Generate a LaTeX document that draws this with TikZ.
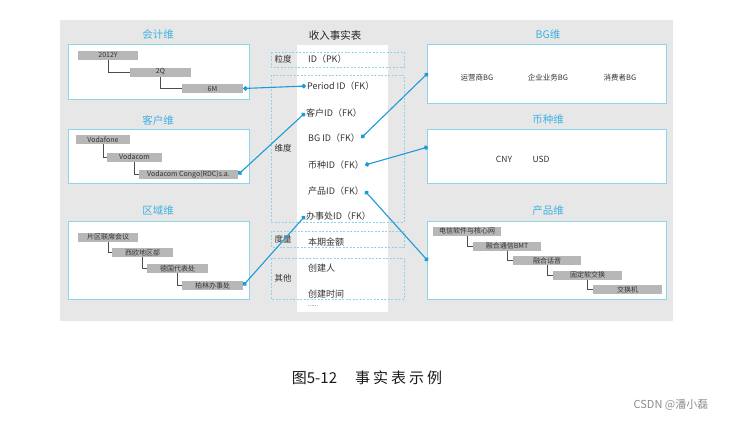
\documentclass[tikz,border=0pt]{standalone}
\usepackage{fontspec}
\setmainfont{Noto Sans CJK SC}
\usetikzlibrary{arrows.meta}
\definecolor{bggray}{HTML}{E7E7E7}
\definecolor{boxline}{HTML}{8ED3EC}
\definecolor{titleblue}{HTML}{3DB2E3}
\definecolor{linkblue}{HTML}{1E9BD7}
\definecolor{itemgray}{HTML}{B7B7B7}
\definecolor{txt}{HTML}{333333}
\tikzset{
  dimbox/.style={draw=boxline, fill=white, line width=0.8pt},
  dimtitle/.style={text=titleblue, font=\fontsize{10.5}{12}\selectfont, inner sep=0pt},
  item/.style={fill=itemgray, minimum height=9pt, inner sep=0pt, text=txt, font=\fontsize{7}{8}\selectfont},
  treeline/.style={draw=black!70, line width=0.6pt},
  dashbox/.style={draw=boxline, line width=0.6pt, dash pattern=on 2pt off 1.5pt},
  field/.style={anchor=west, inner sep=1pt, text=txt, font=\fontsize{9}{10}\selectfont},
  grp/.style={inner sep=0pt, text=txt, font=\fontsize{8.5}{10}\selectfont},
  link/.style={draw=linkblue, line width=1.1pt, {Circle[length=4.5pt]}-{Circle[length=4.5pt]}},
  val/.style={inner sep=0pt, text=txt, font=\fontsize{7.5}{8}\selectfont},
}
\begin{document}
\begin{tikzpicture}[x=1pt, y=-1pt]
\useasboundingbox (0,0) rectangle (744,423);
\fill[bggray] (60,20) rectangle (673,321);

% ---------- left dimensions ----------
\node[dimtitle] (t1) at (158,35) {会计维};
\draw[dimbox] (68,44) rectangle (249,99);
\node[item, minimum width=60pt] (y2012) at (108,55) {2012Y};
\node[item, minimum width=61pt] (q2) at (160.5,72) {2Q};
\node[item, minimum width=61pt] (m6) at (212.5,88.5) {6M};
\draw[treeline] (y2012.south) |- (q2.west);
\draw[treeline] (q2.south) |- (m6.west);

\node[dimtitle] (t2) at (158,120) {客户维};
\draw[dimbox] (68,129) rectangle (249,183);
\node[item, minimum width=54pt] (vf) at (103,139.5) {Vodafone};
\node[item, minimum width=55pt] (vc) at (134.5,157) {Vodacom};
\node[item, minimum width=99pt] (vcg) at (188.5,174.5) {Vodacom Congo(RDC)s.a.};
\draw[treeline] (vf.south) |- (vc.west);
\draw[treeline] (vc.south) |- (vcg.west);

\node[dimtitle] (t3) at (158,211) {区域维};
\draw[dimbox] (68,221) rectangle (249,299);
\node[item, minimum width=60pt] (r1) at (108,237) {片区联席会议};
\node[item, minimum width=61pt] (r2) at (142.5,252.5) {西欧地区部};
\node[item, minimum width=61pt] (r3) at (177.5,268.5) {德国代表处};
\node[item, minimum width=61pt] (r4) at (212.5,285.5) {柏林办事处};
\draw[treeline] (r1.south) |- (r2.west);
\draw[treeline] (r2.south) |- (r3.west);
\draw[treeline] (r3.south) |- (r4.west);

% ---------- fact table ----------
\fill[white] (297,45) rectangle (388,312);
\node[inner sep=0pt, text=black!85, font=\fontsize{10.5}{12}\selectfont] (ft) at (335,35) {收入事实表};
\draw[dashbox] (271,52) rectangle (404,67);
\draw[dashbox] (271,75) rectangle (404,222);
\draw[dashbox] (271,231) rectangle (404,247);
\draw[dashbox] (271,258) rectangle (404,299);
\node[grp] (g1) at (283,59) {粒度};
\node[grp] (g2) at (283,148) {维度};
\node[grp] (g3) at (283,239) {度量};
\node[grp] (g4) at (283,278) {其他};
\node[field] (pk) at (307,59) {ID（PK）};
\node[field] (per) at (306,86) {Period ID（FK）};
\node[field] (khid) at (305,113) {客户ID（FK）};
\node[field] (bgid) at (307,138) {BG ID（FK）};
\node[field] (cyid) at (307,165) {币种ID（FK）};
\node[field] (prid) at (307,191) {产品ID（FK）};
\node[field] (bsid) at (305,216) {办事处ID（FK）};
\node[field] (amt) at (307,242) {本期金额};
\node[field] (cr) at (307,268) {创建人};
\node[field] (ct) at (307,294) {创建时间};
\node[field, font=\fontsize{6}{7}\selectfont] (more) at (307,306) {......};

% ---------- right dimensions ----------
\node[dimtitle] (t4) at (548,35) {BG维};
\draw[dimbox] (427,44) rectangle (666,103);
\coordinate (bgin) at (428,73);
\node[val] (b1) at (477,78) {运营商BG};
\node[val] (b2) at (548,78) {企业业务BG};
\node[val] (b3) at (620,78) {消费者BG};

\node[dimtitle] (t5) at (548,120) {币种维};
\draw[dimbox] (427,129) rectangle (666,183);
\coordinate (cyin) at (428,147);
\node[val, font=\fontsize{8.5}{9}\selectfont] (cny) at (504,159) {CNY};
\node[val, font=\fontsize{8.5}{9}\selectfont] (usd) at (541,159) {USD};

\node[dimtitle] (t6) at (548,211) {产品维};
\draw[dimbox] (427,221) rectangle (666,299);
\coordinate (prin) at (428,261);
\node[item, minimum width=68pt] (p1) at (467,231) {电信软件与核心网};
\node[item, minimum width=68pt] (p2) at (507,246) {融合通信BMT};
\node[item, minimum width=68pt] (p3) at (547,260.5) {融合话音};
\node[item, minimum width=69pt] (p4) at (587.5,275) {固定软交换};
\node[item, minimum width=69pt] (p5) at (627.5,289.5) {交换机};
\draw[treeline] (p1.south) |- (p2.west);
\draw[treeline] (p2.south) |- (p3.west);
\draw[treeline] (p3.south) |- (p4.west);
\draw[treeline] (p4.south) |- (p5.west);

% ---------- links ----------
\draw[link] (m6.east) -- (per.west);
\draw[link] (vcg.east) -- (khid.west);
\draw[link] (r4.east) -- (bsid.west);
\draw[link] (bgid.east) -- (bgin);
\draw[link] (cyid.east) -- (cyin);
\draw[link] (prid.east) -- (prin);

% ---------- caption ----------
\node[inner sep=0pt, text=black!90, font=\fontsize{15}{17}\selectfont] (cap) at (367,378) {图5-12\hspace{18pt}事\hspace{3pt}实\hspace{3pt}表\hspace{3pt}示\hspace{3pt}例};
\node[inner sep=0pt, text=black!45, font=\fontsize{11}{12}\selectfont] (wm) at (671,405) {CSDN @潘小磊};
\end{tikzpicture}
\end{document}
